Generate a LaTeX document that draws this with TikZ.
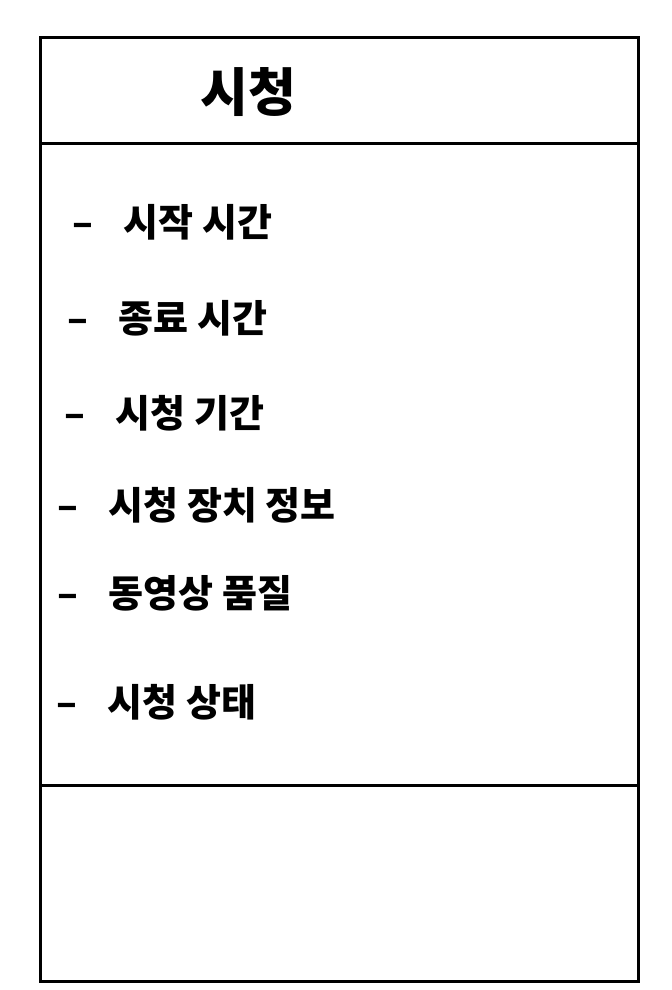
\documentclass[tikz,border=0pt]{standalone}
\usepackage{fontspec}
\newfontfamily\krfont{Noto Sans CJK KR}

\tikzset{
  frame/.style={line width=1.5pt},
  classname/.style={inner sep=0pt, font=\krfont\bfseries\fontsize{26}{28}\selectfont},
  field/.style={anchor=west, inner sep=0pt, font=\krfont\bfseries\fontsize{19}{21}\selectfont},
}
\newcommand{\fieldgap}{\hspace{0.8em}}

\begin{document}
\begin{tikzpicture}[x=0.5pt, y=-0.5pt]
\useasboundingbox (0,0) rectangle (672,990);
% class box
\draw[frame] (40,38) rectangle (638,981);
\draw[frame] (40,143) -- (638,143);
\draw[frame] (40,785) -- (638,785);
% name
\node[classname] (title) at (248,92) {시청};
% attributes
\node[field] (start)   at (72,222) {–\fieldgap 시작 시간};
\node[field] (end)     at (67,318) {–\fieldgap 종료 시간};
\node[field] (period)  at (64,413) {–\fieldgap 시청 기간};
\node[field] (device)  at (57,505) {–\fieldgap 시청 장치 정보};
\node[field] (quality) at (57,593) {–\fieldgap 동영상 품질};
\node[field] (state)   at (56,702) {–\fieldgap 시청 상태};
\end{tikzpicture}
\end{document}
